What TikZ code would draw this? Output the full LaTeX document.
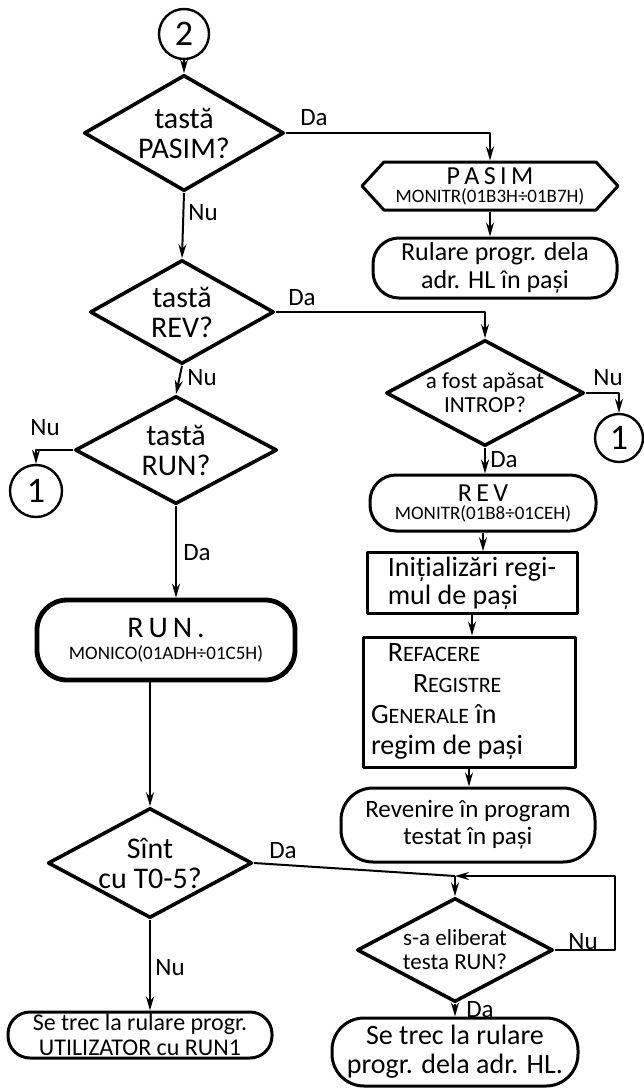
\documentclass[tikz,border=0pt]{standalone}
\usepackage{fontspec}
\setmainfont{Carlito}
\usetikzlibrary{shapes.geometric,shapes.symbols,arrows.meta}
% fonturi pentru texte
\newcommand\txtfont{\fontsize{13}{14}\selectfont}
\newcommand\decfont{\fontsize{15}{15}\selectfont}
\newcommand\adrfont{\fontsize{9.5}{10}\selectfont}
\newcommand\smc[2]{#1{\fontsize{11}{13}\selectfont #2}}
\tikzset{
  dec/.style={diamond, draw, line width=1.8pt, aspect=2, inner sep=0pt,
    align=center, font=\decfont},
  proc/.style={rectangle, draw, line width=1.5pt, inner sep=2pt,
    align=center, font=\txtfont},
  term/.style={proc, rounded corners=13pt},
  prep/.style={signal, signal to=west and east, signal pointer angle=95,
    draw, line width=1.5pt, inner sep=1pt, align=center, font=\txtfont},
  conn/.style={circle, draw, line width=1.2pt, inner sep=0pt,
    minimum size=24pt, font=\fontsize{18}{18}\selectfont},
  lbl/.style={font=\fontsize{12.5}{12.5}\selectfont, inner sep=1pt}
}
\begin{document}
\begin{tikzpicture}[x=0.5pt, y=-0.5pt, line width=1pt, line join=round,
  >={Stealth[length=7pt,width=4pt]}]
\useasboundingbox (0,0) rectangle (643,1092);
% coloana din stanga: testarea tastelor
\node[conn, minimum size=25pt] (c2) at (184,34) {2};
\node[dec, minimum width=100pt, minimum height=58pt] (pasim) at (184,133) {tastă\\PASIM?};
\node[dec, minimum width=92pt, minimum height=52pt] (rev) at (182,312) {tastă\\REV?};
\node[dec, minimum width=101pt, minimum height=54pt] (run) at (176,450) {tastă\\RUN?};
\node[conn, minimum size=26pt] (c1l) at (36,491) {1};
\node[term, line width=2.4pt, rounded corners=15pt, minimum width=129pt, minimum height=40pt] (runbox) at (166,640)
  {\fontsize{15}{15}\selectfont R\,U\,N\,.\\[-3pt]\adrfont MONICO(01ADH÷01C5H)};
\node[dec, minimum width=101pt, minimum height=55pt] (sint) at (150,863) {Sînt\\cu T0-5?};
\node[term, rounded corners=11pt, minimum width=132pt, minimum height=23pt, inner sep=1pt,
  font=\fontsize{12}{12.5}\selectfont] (util) at (140,1035)
  {Se trec la rulare progr.\\UTILIZATOR cu RUN1};
% ramura PASIM
\node[prep, minimum width=128pt, minimum height=24pt] (pasimh) at (490,186)
  {P\,A\,S\,I\,M\\[-5pt]\adrfont MONITR(01B3H÷01B7H)};
\node[term, minimum width=122pt, minimum height=30pt] (rulare) at (495,268)
  {Rulare progr. dela\\adr. HL în pași};
% ramura REV
\node[dec, minimum width=97pt, minimum height=53pt, font=\fontsize{11.5}{12}\selectfont] (introp) at (485,393)
  {a fost apăsat\\INTROP?};
\node[conn] (c1r) at (619,438) {1};
\node[term, minimum width=113pt, minimum height=28pt, inner sep=1pt] (revbox) at (483,503)
  {R\,E\,V\\[-5pt]\adrfont MONITR(01B8÷01CEH)};
\node[proc, align=left, minimum width=105pt, minimum height=28pt, font=\fontsize{14}{14}\selectfont] (init) at (472,583)
  {Inițializări regi-\\mul de pași};
\node[proc, text width=98pt, align=flush left, minimum height=65pt, inner xsep=4pt,
  font=\fontsize{14}{15.5}\selectfont] (refac) at (469,702)
  {\hspace*{0.6em}\smc{R}{EFACERE}\\\hspace*{1.5em}\smc{R}{EGISTRE}\\\smc{G}{ENERALE} în\\regim de pași};
\node[term, rounded corners=16pt, minimum width=127pt, minimum height=37pt, font=\fontsize{12.5}{13.5}\selectfont] (reven) at (468,825)
  {Revenire în program\\testat în pași};
% bucla de asteptare
\coordinate (j) at (455,876);
\coordinate (loop) at (615,876);
\node[dec, minimum width=98pt, minimum height=52pt, font=\fontsize{11.5}{12}\selectfont] (elib) at (455,950)
  {s-a eliberat\\testa RUN?};
\node[term, rounded corners=16pt, minimum width=123pt, minimum height=34pt, font=\fontsize{14}{14.5}\selectfont] (final) at (455,1052)
  {Se trec la rulare\\progr. dela adr. HL.};
% legaturi
\draw[->] (c2.south) -- (pasim.north);
\draw[->] (pasim.east) -| (pasimh.north);
\draw[->] (pasimh.south) -- (pasimh.south |- rulare.north);
\draw[->] (pasim.south) -- (rev.north);
\draw[->] (rev.east) -| (introp.north);
\draw[->] (introp.east) -| (c1r.north);
\draw[->] (introp.south) -- (introp.south |- revbox.north);
\draw[->] (revbox.south) -- (revbox.south |- init.north);
\draw[->] (init.south) -- (init.south |- refac.north);
\draw[->] (refac.south) -- (refac.south |- reven.north);
\draw[->] (rev.south) -- (run.north);
\draw[->] (run.west) -| (c1l.north);
\draw[->] (run.south) -- (run.south |- runbox.north);
\draw[->] (sint.north |- runbox.south) -- (sint.north);
\draw[->] (sint.south) -- (sint.south |- util.north);
\draw (sint.east) -- (j);
\draw[->] (j) -- (elib.north);
\draw[->] (elib.east) -| (loop) -- (j);
\draw[->] (elib.south) -- (final.north);
% etichete Da / Nu
\node[lbl] (da1) at (314,118) {Da};
\node[lbl] (nu1) at (203,213) {Nu};
\node[lbl] (da2) at (302,298) {Da};
\node[lbl] (nu2) at (202,378) {Nu};
\node[lbl] (nu3) at (608,378) {Nu};
\node[lbl] (da3) at (504,460) {Da};
\node[lbl] (nu4) at (45,428) {Nu};
\node[lbl] (da4) at (197,553) {Da};
\node[lbl] (da5) at (283,851) {Da};
\node[lbl] (nu5) at (170,968) {Nu};
\node[lbl] (nu6) at (583,942) {Nu};
\node[lbl] (da6) at (480,1010) {Da};
\end{tikzpicture}
\end{document}
